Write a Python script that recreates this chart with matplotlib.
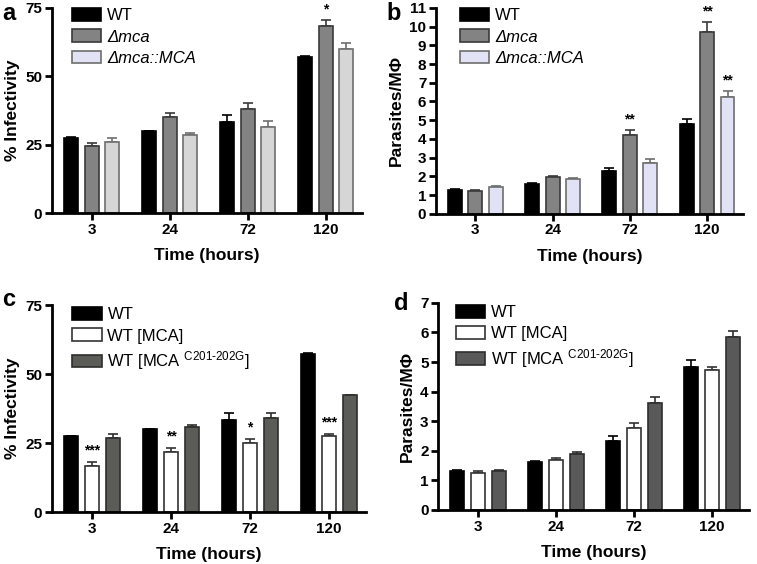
import numpy as np
import matplotlib
matplotlib.use("Agg")
import matplotlib.pyplot as plt

plt.rcParams['font.family'] = ['Liberation Sans', 'DejaVu Sans']
plt.rcParams['mathtext.fontset'] = 'custom'
plt.rcParams['mathtext.rm'] = 'Liberation Sans'
plt.rcParams['mathtext.it'] = 'Liberation Sans:italic'

# datos
horas = ["3", "24", "72", "120"]

# panel a - % infectividad
inf_wt = [27.5, 30.0, 33.4, 57.2]
inf_wt_err = [0.2, 0.2, 2.6, 0.3]
inf_mca = [24.4, 35.0, 37.9, 68.4]
inf_mca_err = [1.1, 1.5, 2.4, 2.1]
inf_comp = [26.0, 28.5, 31.4, 59.9]
inf_comp_err = [1.3, 0.9, 2.1, 2.3]
inf_stars_a = ["", "", "", "*"]

# panel b - parasitos por macrofago
par_wt = [1.28, 1.59, 2.27, 4.79]
par_wt_err = [0.03, 0.04, 0.2, 0.25]
par_mca = [1.24, 1.98, 4.21, 9.71]
par_mca_err = [0.03, 0.05, 0.27, 0.54]
par_comp = [1.43, 1.86, 2.70, 6.25]
par_comp_err = [0.05, 0.04, 0.2, 0.3]
par_stars_mca = ["", "", "**", "**"]
par_stars_comp = ["", "", "", "**"]

# panel c - % infectividad sobreexpresion
inf_over = [16.8, 21.6, 25.0, 27.4]
inf_over_err = [1.5, 1.7, 1.5, 1.0]
inf_mut = [26.9, 30.7, 34.2, 42.4]
inf_mut_err = [1.5, 0.7, 1.7, 0.2]
inf_stars_c = ["***", "**", "*", "***"]

# panel d - parasitos por macrofago sobreexpresion
par_wt_d = [1.33, 1.62, 2.34, 4.83]
par_wt_d_err = [0.02, 0.02, 0.16, 0.23]
par_over = [1.25, 1.68, 2.78, 4.74]
par_over_err = [0.05, 0.08, 0.16, 0.1]
par_mut = [1.32, 1.88, 3.60, 5.85]
par_mut_err = [0.03, 0.08, 0.2, 0.19]

x = np.arange(len(horas))
ancho = 0.18
paso = 0.265

W, H = 757, 564


def barras(ax, series, ylim, yticks, ylabel, leg_pos, legend_colors=None):
    for i, (vals, errs, fc, ec, lab) in enumerate(series):
        pos = x + (i - 1) * paso
        ax.bar(pos, vals, ancho, color=fc, edgecolor=ec, linewidth=1.2, label=lab, zorder=2)
        ax.errorbar(pos, vals, yerr=[np.zeros(len(errs)), errs], fmt="none",
                    ecolor=ec, elinewidth=1.2, capsize=3.5, capthick=1.2, zorder=1)
    ax.set_xlim(-0.51, 3.47)
    ax.set_ylim(*ylim)
    ax.set_yticks(yticks)
    ax.set_xticks(x)
    ax.set_xticklabels(horas)
    for s in ["top", "right"]:
        ax.spines[s].set_visible(False)
    for s in ["left", "bottom"]:
        ax.spines[s].set_linewidth(2)
    ax.tick_params(width=2, length=5, labelsize=11, pad=2)
    for t in ax.get_xticklabels() + ax.get_yticklabels():
        t.set_fontweight("bold")
    ax.set_xlabel("Time (hours)", fontsize=12.5, fontweight="bold", labelpad=8)
    ax.set_ylabel(ylabel, fontsize=12.5, fontweight="bold", labelpad=4)
    leg = ax.legend(loc="upper left", bbox_to_anchor=leg_pos, frameon=False,
                    fontsize=12, handlelength=1.75, handleheight=0.8,
                    handletextpad=0.35, labelspacing=0.36, borderaxespad=0,
                    borderpad=0)
    if legend_colors is not None:
        for h, c in zip(leg.legend_handles, legend_colors):
            h.set_facecolor(c)
    return leg


def estrellas(ax, idx_serie, vals, errs, marcas, offset):
    for j, m in enumerate(marcas):
        if m:
            ax.text(x[j] + (idx_serie - 1) * paso, vals[j] + errs[j] + offset, m,
                    ha="center", va="bottom", fontsize=10, fontweight="bold")


fig = plt.figure(figsize=(W / 100, H / 100), dpi=100)
ax_a = fig.add_axes([0.0687, 0.622, 0.41, 0.364])
ax_b = fig.add_axes([0.576, 0.621, 0.406, 0.365])
ax_c = fig.add_axes([0.0687, 0.092, 0.415, 0.367])
ax_d = fig.add_axes([0.579, 0.096, 0.41, 0.367])

leg_a = barras(ax_a, [(inf_wt, inf_wt_err, "black", "black", "WT"),
                      (inf_mca, inf_mca_err, "#838383", "#3a3a3a", "Δmca"),
                      (inf_comp, inf_comp_err, "#d6d6d6", "#6e6e6e", "Δmca::MCA")],
               (0, 75), [0, 25, 50, 75], "% Infectivity", (0.065, 0.998),
               legend_colors=["black", "#838383", "#e2e2f6"])
estrellas(ax_a, 1, inf_mca, inf_mca_err, inf_stars_a, 1.5)

leg_b = barras(ax_b, [(par_wt, par_wt_err, "black", "black", "WT"),
                      (par_mca, par_mca_err, "#838383", "#3a3a3a", "Δmca"),
                      (par_comp, par_comp_err, "#e2e2f6", "#6e6e6e", "Δmca::MCA")],
               (0, 11), list(range(12)), "Parasites/MΦ", (0.078, 0.998))
estrellas(ax_b, 1, par_mca, par_mca_err, par_stars_mca, 0.2)
estrellas(ax_b, 2, par_comp, par_comp_err, par_stars_comp, 0.2)

for leg in (leg_a, leg_b):
    for t in leg.get_texts()[1:]:
        t.set_fontstyle("italic")

mut_label = r"WT [MCA $^{\mathrm{C201\text{-}202G}}$]"
barras(ax_c, [(inf_wt, inf_wt_err, "black", "black", "WT"),
              (inf_over, inf_over_err, "white", "#333333", "WT [MCA]"),
              (inf_mut, inf_mut_err, "#5b5b57", "#2e2e2e", mut_label)],
       (0, 75), [0, 25, 50, 75], "% Infectivity", (0.065, 0.99))
estrellas(ax_c, 1, inf_over, inf_over_err, inf_stars_c, 1.5)

barras(ax_d, [(par_wt_d, par_wt_d_err, "black", "black", "WT"),
              (par_over, par_over_err, "white", "#333333", "WT [MCA]"),
              (par_mut, par_mut_err, "#595959", "#2e2e2e", mut_label)],
       (0, 7), list(range(8)), "Parasites/MΦ", (0.058, 0.99))

# letras de los paneles
for letra, px, py in [("a", 9, 14), ("b", 394, 14), ("c", 9, 299), ("d", 401, 304)]:
    fig.text(px / W, 1 - py / H, letra, fontsize=17, fontweight="bold",
             ha="center", va="center")

fig.savefig("out.png", dpi=100)
